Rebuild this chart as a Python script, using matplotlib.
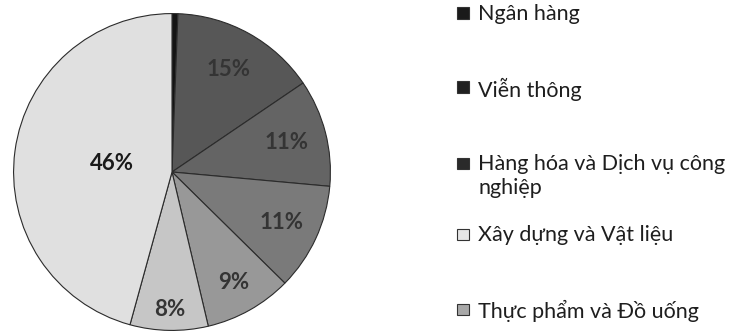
import numpy as np
import matplotlib.pyplot as plt
from matplotlib.patches import Rectangle

# slices, clockwise from 12 o'clock
shares = [0.6, 15, 11, 11, 9, 8, 46]
pct_labels = ["", "15%", "11%", "11%", "9%", "8%", "46%"]
slice_colors = ["#141414", "#575757", "#646464", "#7a7a7a", "#989898", "#c6c6c6", "#e0e0e0"]
label_dist = [0.0, 0.74, 0.75, 0.76, 0.80, 0.87, 0.38]
label_colors = ["#000000", "#343434", "#343434", "#343434", "#343434", "#343434", "#1a1a1a"]

legend_names = ["Ngân hàng", "Viễn thông", "Hàng hóa và Dịch vụ công\nnghiệp",
                "Xây dựng và Vật liệu", "Thực phẩm và Đồ uống"]
legend_colors = ["#1a1a1a", "#202020", "#2a2a2a", "#e6e6e6", "#a8a8a8"]

plt.rcParams['font.family'] = ['Lato', 'DejaVu Sans']

W, H = 739, 333
fig = plt.figure(figsize=(W / 100, H / 100), dpi=100)
fig.patch.set_facecolor("white")
ax = fig.add_axes([12 / W, 1 / H, 320 / W, 320 / H])

wedges, _ = ax.pie(shares, colors=slice_colors, startangle=90, counterclock=False,
                   radius=1.0, wedgeprops=dict(edgecolor="#2b2b2b", linewidth=0.8))
ax.set_xlim(-1.01, 1.01)
ax.set_ylim(-1.01, 1.01)
ax.set_aspect("auto")
ax.axis("off")

for w, lab, d, c in zip(wedges, pct_labels, label_dist, label_colors):
    if not lab:
        continue
    ang = np.deg2rad((w.theta1 + w.theta2) / 2)
    ax.text(d * np.cos(ang), d * np.sin(ang), lab, ha="center", va="center",
            fontsize=16, fontweight="bold", color=c)

# legend laid out by hand (marker centres, in pixels from the top)
row_y = [13, 87, 163, 234, 309]
for name, col, y in zip(legend_names, legend_colors, row_y):
    fig.patches.append(Rectangle((457 / W, 1 - (y + 5.5) / H), 12 / W, 11 / H,
                                 transform=fig.transFigure, facecolor=col,
                                 edgecolor="#333333", linewidth=0.8))
    fig.text(478 / W, 1 - (y - 9) / H, name, ha="left", va="top",
             fontsize=15.5, color="#1e1e1e", linespacing=1.25)

fig.savefig("out.png", dpi=100)
